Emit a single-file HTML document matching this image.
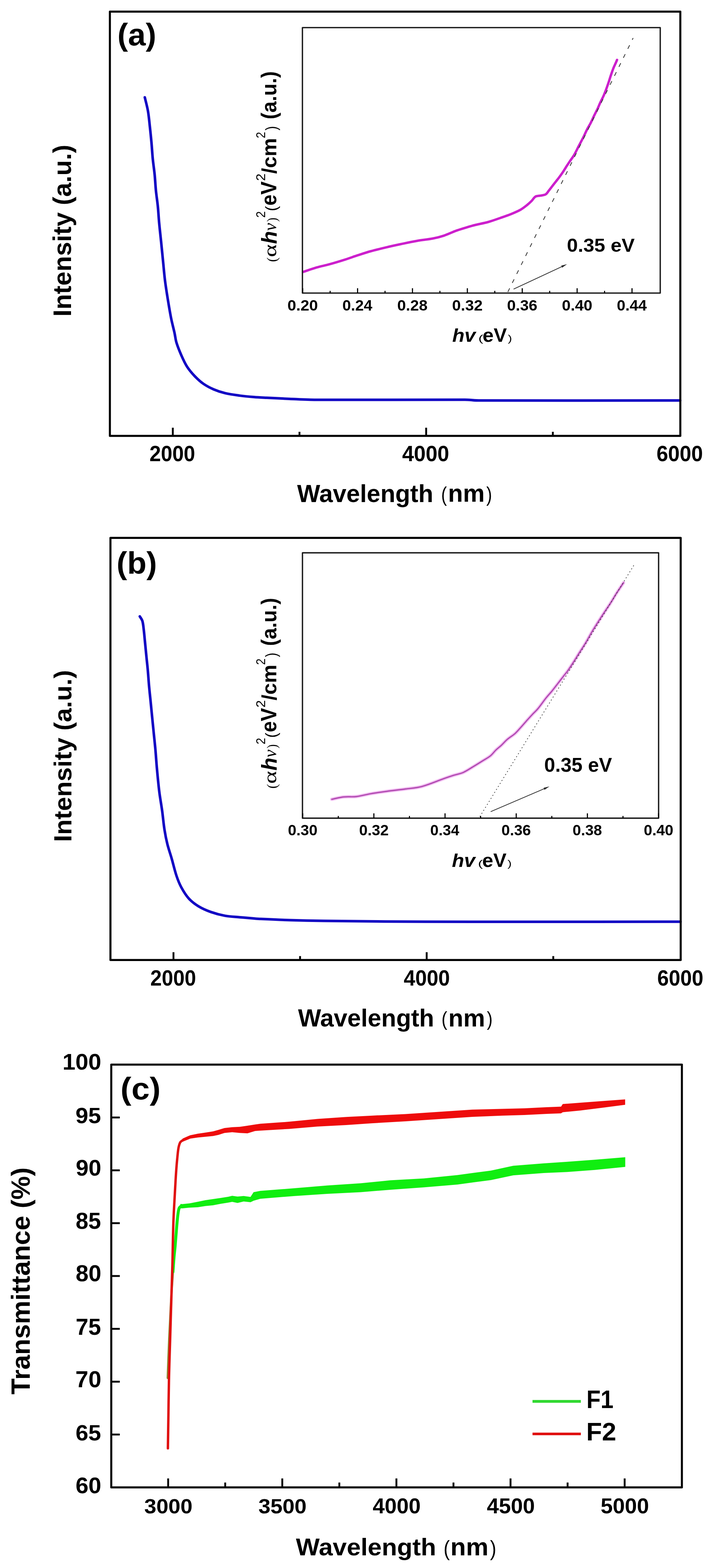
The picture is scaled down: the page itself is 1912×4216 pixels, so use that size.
<!DOCTYPE html>
<html><head><meta charset="utf-8"><title>Figure</title>
<style>html,body{margin:0;padding:0;background:#fff;} svg{display:block;}</style></head>
<body><svg width="1912" height="4216" viewBox="0 0 1912 4216">
<rect x="0" y="0" width="1912" height="4216" fill="#fff"/>
<path d="M389.40,261.70 C392.23,273.97 395.76,286.09 397.90,298.50 C400.34,312.66 401.51,327.02 403.10,341.30 C404.68,355.55 406.12,369.82 407.40,384.10 C408.68,398.35 409.39,412.66 410.80,426.90 C412.22,441.20 414.48,455.40 415.90,469.70 C417.31,483.94 417.87,498.26 419.30,512.50 C420.74,526.80 423.07,541.00 424.50,555.30 C425.93,569.57 426.58,583.92 427.90,598.20 C429.54,615.95 431.60,633.66 433.40,651.40 C435.13,668.50 436.79,685.60 438.50,702.70 C440.22,719.83 441.56,737.01 443.70,754.10 C445.86,771.29 448.62,788.40 451.40,805.50 C454.19,822.67 456.99,839.84 460.40,856.90 C462.99,869.82 466.57,882.53 469.40,895.40 C471.27,903.93 471.97,912.74 474.50,921.10 C477.96,932.51 482.51,943.58 487.30,954.50 C491.92,965.01 496.53,975.62 502.70,985.30 C508.60,994.56 515.76,1003.02 523.30,1011.00 C530.37,1018.48 537.97,1025.59 546.40,1031.50 C555.21,1037.67 564.84,1042.71 574.70,1047.00 C584.62,1051.31 594.98,1054.68 605.50,1057.20 C618.15,1060.23 631.11,1061.88 644.00,1063.60 C656.82,1065.31 669.71,1066.46 682.60,1067.50 C694.05,1068.43 705.53,1068.91 717.00,1069.50 C737.33,1070.54 757.66,1071.56 778.00,1072.40 C802.00,1073.39 825.98,1074.88 850.00,1075.00 C983.33,1075.68 1116.67,1074.25 1250.00,1074.80 C1262.68,1074.85 1275.32,1076.76 1288.00,1076.80 C1468.33,1077.42 1648.67,1076.80 1829.00,1076.80" fill="none" stroke="#1206c4" stroke-width="7" stroke-linejoin="round" stroke-linecap="round" />
<rect x="295.50" y="31.30" width="1534.00" height="1140.70" fill="none" stroke="#000" stroke-width="5.5" stroke-linejoin="round"/>
<line x1="464.70" y1="1172.00" x2="464.70" y2="1150.00" stroke="#000" stroke-width="5" />
<line x1="805.35" y1="1172.00" x2="805.35" y2="1161.00" stroke="#000" stroke-width="5" />
<line x1="1146.00" y1="1172.00" x2="1146.00" y2="1150.00" stroke="#000" stroke-width="5" />
<line x1="1486.65" y1="1172.00" x2="1486.65" y2="1161.00" stroke="#000" stroke-width="5" />
<text transform="translate(401.97,1240.31) scale(0.9393,1)" font-family="'Liberation Sans', Arial, sans-serif" font-weight="bold" font-style="normal" font-size="58.80" fill="#000" >2000</text>
<text transform="translate(1081.45,1240.31) scale(0.9675,1)" font-family="'Liberation Sans', Arial, sans-serif" font-weight="bold" font-style="normal" font-size="58.80" fill="#000" >4000</text>
<text transform="translate(1765.40,1240.31) scale(0.9538,1)" font-family="'Liberation Sans', Arial, sans-serif" font-weight="bold" font-style="normal" font-size="58.80" fill="#000" >6000</text>
<text transform="translate(315.72,122.37) scale(1.0357,1)" font-family="'Liberation Sans', Arial, sans-serif" font-weight="bold" font-style="normal" font-size="82.57" fill="#000" >(a)</text>
<text transform="translate(799.04,1349.50) scale(0.9939,1)" font-family="'Liberation Sans', Arial, sans-serif" font-weight="bold" font-style="normal" font-size="66.07" fill="#000" >Wavelength</text>
<text transform="translate(1186.20,1347.61) scale(0.8465,1)" font-family="'Liberation Sans', Arial, sans-serif" font-weight="normal" font-style="normal" font-size="54.91" fill="#000" >(</text>
<text transform="translate(1204.83,1349.00) scale(0.9923,1)" font-family="'Liberation Sans', Arial, sans-serif" font-weight="bold" font-style="normal" font-size="66.23" fill="#000" >nm</text>
<text transform="translate(1307.85,1347.61) scale(0.8465,1)" font-family="'Liberation Sans', Arial, sans-serif" font-weight="normal" font-style="normal" font-size="54.91" fill="#000" >)</text>
<text transform="translate(191.36,851.31) rotate(-90) scale(1.0083,1)" font-family="'Liberation Sans', Arial, sans-serif" font-weight="bold" font-style="normal" font-size="67.67" fill="#000">Intensity (a.u.)</text>
<path d="M376.00,1657.40 C378.27,1661.40 381.42,1665.01 382.80,1669.40 C384.87,1676.01 385.33,1683.03 386.20,1689.90 C387.64,1701.30 388.56,1712.76 389.70,1724.20 C391.12,1738.46 392.47,1752.74 393.90,1767.00 C395.04,1778.40 396.38,1789.79 397.40,1801.20 C398.68,1815.45 399.52,1829.75 400.80,1844.00 C402.08,1858.28 403.68,1872.53 405.10,1886.80 C406.52,1901.10 407.88,1915.40 409.30,1929.70 C410.72,1943.97 412.17,1958.23 413.60,1972.50 C415.03,1986.77 416.62,2001.02 417.90,2015.30 C419.36,2031.59 420.30,2047.92 421.80,2064.20 C423.77,2085.62 425.68,2107.05 428.30,2128.40 C430.41,2145.60 433.65,2162.64 436.00,2179.80 C438.35,2196.91 439.72,2214.14 442.40,2231.20 C444.43,2244.13 446.93,2257.00 450.10,2269.70 C453.34,2282.70 457.90,2295.33 461.60,2308.20 C466.03,2323.60 469.43,2339.30 474.50,2354.50 C478.02,2365.05 482.00,2375.53 487.30,2385.30 C493.19,2396.16 499.63,2406.92 507.90,2416.10 C515.25,2424.26 524.22,2430.99 533.60,2436.70 C544.07,2443.08 555.46,2447.97 567.00,2452.10 C579.51,2456.57 592.43,2460.01 605.50,2462.40 C618.18,2464.72 631.16,2465.02 644.00,2466.20 C656.86,2467.38 669.73,2468.46 682.60,2469.50 C688.73,2469.99 694.86,2470.51 701.00,2470.80 C726.66,2472.01 752.32,2473.21 778.00,2474.00 C808.99,2474.95 839.99,2475.63 871.00,2476.00 C961.66,2477.07 1052.33,2478.08 1143.00,2478.30 C1372.00,2478.85 1601.00,2478.30 1830.00,2478.30" fill="none" stroke="#1206c4" stroke-width="7" stroke-linejoin="round" stroke-linecap="round" />
<rect x="297.00" y="1446.20" width="1533.50" height="1135.00" fill="none" stroke="#000" stroke-width="5.5" stroke-linejoin="round"/>
<line x1="466.50" y1="2581.20" x2="466.50" y2="2560.20" stroke="#000" stroke-width="5" />
<line x1="806.95" y1="2581.20" x2="806.95" y2="2570.70" stroke="#000" stroke-width="5" />
<line x1="1147.40" y1="2581.20" x2="1147.40" y2="2560.20" stroke="#000" stroke-width="5" />
<line x1="1487.85" y1="2581.20" x2="1487.85" y2="2570.70" stroke="#000" stroke-width="5" />
<text transform="translate(404.27,2650.31) scale(0.9393,1)" font-family="'Liberation Sans', Arial, sans-serif" font-weight="bold" font-style="normal" font-size="58.80" fill="#000" >2000</text>
<text transform="translate(1085.66,2650.31) scale(0.9494,1)" font-family="'Liberation Sans', Arial, sans-serif" font-weight="bold" font-style="normal" font-size="58.80" fill="#000" >4000</text>
<text transform="translate(1767.51,2650.31) scale(0.9467,1)" font-family="'Liberation Sans', Arial, sans-serif" font-weight="bold" font-style="normal" font-size="58.80" fill="#000" >6000</text>
<text transform="translate(313.55,1543.08) scale(1.0134,1)" font-family="'Liberation Sans', Arial, sans-serif" font-weight="bold" font-style="normal" font-size="83.97" fill="#000" >(b)</text>
<text transform="translate(801.44,2759.50) scale(0.9939,1)" font-family="'Liberation Sans', Arial, sans-serif" font-weight="bold" font-style="normal" font-size="66.07" fill="#000" >Wavelength</text>
<text transform="translate(1187.20,2757.91) scale(0.8616,1)" font-family="'Liberation Sans', Arial, sans-serif" font-weight="normal" font-style="normal" font-size="53.94" fill="#000" >(</text>
<text transform="translate(1205.83,2759.50) scale(0.9785,1)" font-family="'Liberation Sans', Arial, sans-serif" font-weight="bold" font-style="normal" font-size="67.16" fill="#000" >nm</text>
<text transform="translate(1309.25,2757.91) scale(0.8616,1)" font-family="'Liberation Sans', Arial, sans-serif" font-weight="normal" font-style="normal" font-size="53.94" fill="#000" >)</text>
<text transform="translate(191.98,2263.81) rotate(-90) scale(1.0099,1)" font-family="'Liberation Sans', Arial, sans-serif" font-weight="bold" font-style="normal" font-size="67.56" fill="#000">Intensity (a.u.)</text>
<path d="M815.00,731.20 C827.13,727.20 839.14,722.78 851.40,719.20 C862.68,715.91 874.27,713.75 885.60,710.60 C899.95,706.61 914.20,702.29 928.40,697.80 C939.91,694.16 951.22,689.94 962.70,686.20 C974.06,682.50 985.39,678.70 996.90,675.50 C1011.07,671.56 1025.39,668.18 1039.70,664.80 C1052.52,661.78 1065.41,659.01 1078.30,656.30 C1092.51,653.31 1106.70,650.21 1121.00,647.70 C1135.24,645.20 1149.71,644.05 1163.90,641.30 C1174.00,639.34 1184.04,636.86 1193.80,633.60 C1205.45,629.71 1216.43,624.02 1228.00,619.90 C1239.28,615.88 1250.83,612.66 1262.30,609.20 C1266.74,607.86 1271.20,606.60 1275.70,605.50 C1288.50,602.37 1301.50,600.04 1314.20,596.50 C1324.63,593.60 1334.77,589.75 1345.00,586.20 C1354.47,582.91 1364.00,579.75 1373.30,576.00 C1382.02,572.48 1390.79,568.98 1399.00,564.40 C1405.43,560.81 1411.23,556.17 1417.00,551.60 C1421.51,548.02 1425.73,544.07 1429.80,540.00 C1433.41,536.39 1435.61,531.19 1440.00,528.60 C1444.01,526.23 1449.16,526.91 1453.70,525.90 C1458.29,524.88 1463.35,524.90 1467.40,522.50 C1471.02,520.35 1472.95,516.17 1475.60,512.90 C1478.89,508.84 1481.99,504.63 1485.20,500.50 C1488.39,496.39 1491.60,492.30 1494.80,488.20 C1498.00,484.10 1501.31,480.08 1504.40,475.90 C1507.71,471.41 1510.91,466.84 1514.00,462.20 C1517.31,457.24 1520.36,452.11 1523.60,447.10 C1526.76,442.21 1529.95,437.33 1533.20,432.50 C1536.58,427.47 1540.46,422.75 1543.50,417.50 C1548.44,408.99 1552.55,400.03 1557.10,391.30 C1560.82,384.16 1564.69,377.10 1568.30,369.90 C1572.13,362.26 1575.51,354.41 1579.40,346.80 C1582.08,341.57 1585.33,336.64 1588.00,331.40 C1591.60,324.36 1594.74,317.11 1598.20,310.00 C1601.28,303.67 1604.60,297.46 1607.60,291.10 C1609.57,286.93 1611.16,282.59 1613.10,278.40 C1616.43,271.22 1620.19,264.24 1623.40,257.00 C1625.89,251.39 1628.05,245.64 1630.20,239.90 C1632.32,234.24 1634.28,228.53 1636.20,222.80 C1638.58,215.69 1640.69,208.50 1643.10,201.40 C1645.25,195.06 1647.42,188.72 1649.90,182.50 C1651.99,177.28 1654.54,172.25 1656.80,167.10 C1657.67,165.12 1658.47,163.10 1659.30,161.10" fill="none" stroke="#cc1fcc" stroke-width="6.5" stroke-linejoin="round" stroke-linecap="round" />
<line x1="1365.70" y1="785.00" x2="1702.60" y2="102.30" stroke="#3a3a3a" stroke-width="2.2" stroke-dasharray="11,16"/>
<rect x="813.30" y="74.30" width="962.20" height="713.70" fill="none" stroke="#1a1a1a" stroke-width="3.6" stroke-linejoin="round"/>
<line x1="814.00" y1="788.00" x2="814.00" y2="775.00" stroke="#000" stroke-width="3" />
<line x1="887.80" y1="788.00" x2="887.80" y2="782.00" stroke="#000" stroke-width="3" />
<line x1="961.60" y1="788.00" x2="961.60" y2="775.00" stroke="#000" stroke-width="3" />
<line x1="1035.40" y1="788.00" x2="1035.40" y2="782.00" stroke="#000" stroke-width="3" />
<line x1="1109.20" y1="788.00" x2="1109.20" y2="775.00" stroke="#000" stroke-width="3" />
<line x1="1183.00" y1="788.00" x2="1183.00" y2="782.00" stroke="#000" stroke-width="3" />
<line x1="1256.80" y1="788.00" x2="1256.80" y2="775.00" stroke="#000" stroke-width="3" />
<line x1="1330.60" y1="788.00" x2="1330.60" y2="782.00" stroke="#000" stroke-width="3" />
<line x1="1404.40" y1="788.00" x2="1404.40" y2="775.00" stroke="#000" stroke-width="3" />
<line x1="1478.20" y1="788.00" x2="1478.20" y2="782.00" stroke="#000" stroke-width="3" />
<line x1="1552.00" y1="788.00" x2="1552.00" y2="775.00" stroke="#000" stroke-width="3" />
<line x1="1625.80" y1="788.00" x2="1625.80" y2="782.00" stroke="#000" stroke-width="3" />
<line x1="1699.60" y1="788.00" x2="1699.60" y2="775.00" stroke="#000" stroke-width="3" />
<text transform="translate(773.01,834.89) scale(1.0247,1)" font-family="'Liberation Sans', Arial, sans-serif" font-weight="bold" font-style="normal" font-size="41.13" fill="#000" >0.20</text>
<text transform="translate(920.65,834.89) scale(1.0058,1)" font-family="'Liberation Sans', Arial, sans-serif" font-weight="bold" font-style="normal" font-size="41.13" fill="#000" >0.24</text>
<text transform="translate(1068.22,834.89) scale(1.0192,1)" font-family="'Liberation Sans', Arial, sans-serif" font-weight="bold" font-style="normal" font-size="41.13" fill="#000" >0.28</text>
<text transform="translate(1215.81,834.79) scale(1.0283,1)" font-family="'Liberation Sans', Arial, sans-serif" font-weight="bold" font-style="normal" font-size="40.99" fill="#000" >0.32</text>
<text transform="translate(1363.42,834.79) scale(1.0255,1)" font-family="'Liberation Sans', Arial, sans-serif" font-weight="bold" font-style="normal" font-size="40.99" fill="#000" >0.36</text>
<text transform="translate(1511.01,834.89) scale(1.0247,1)" font-family="'Liberation Sans', Arial, sans-serif" font-weight="bold" font-style="normal" font-size="41.13" fill="#000" >0.40</text>
<text transform="translate(1658.65,834.89) scale(1.0058,1)" font-family="'Liberation Sans', Arial, sans-serif" font-weight="bold" font-style="normal" font-size="41.13" fill="#000" >0.44</text>
<line x1="1381.10" y1="777.40" x2="1510.40" y2="717.07" stroke="#2a2a2a" stroke-width="2" />
<polygon points="1524.90,710.30 1511.67,719.78 1509.13,714.35" fill="#2a2a2a"/>
<text transform="translate(1524.58,676.87) scale(1.0459,1)" font-family="'Liberation Sans', Arial, sans-serif" font-weight="bold" font-style="normal" font-size="50.56" fill="#000" >0.35 eV</text>
<text transform="translate(743.72,704.34) rotate(-90) scale(0.9706,1)" font-family="'Liberation Serif', 'Times New Roman', serif" font-weight="normal" font-style="normal" font-size="37.58" fill="#000">(</text>
<text transform="translate(743.10,691.58) rotate(-90) scale(1.3152,1)" font-family="'Liberation Serif', 'Times New Roman', serif" font-weight="normal" font-style="normal" font-size="50.36" fill="#000">α</text>
<text transform="translate(743.60,655.90) rotate(-90) scale(1.0016,1)" font-family="'Liberation Sans', Arial, sans-serif" font-weight="bold" font-style="italic" font-size="57.10" fill="#000">h</text>
<text transform="translate(743.10,620.72) rotate(-90) scale(0.9541,1)" font-family="'Liberation Serif', 'Times New Roman', serif" font-weight="normal" font-style="italic" font-size="50.21" fill="#000">ν</text>
<text transform="translate(743.72,596.17) rotate(-90) scale(0.8785,1)" font-family="'Liberation Serif', 'Times New Roman', serif" font-weight="normal" font-style="normal" font-size="37.58" fill="#000">)</text>
<text transform="translate(713.30,585.59) rotate(-90) scale(0.8963,1)" font-family="'Liberation Sans', Arial, sans-serif" font-weight="normal" font-style="normal" font-size="35.56" fill="#000">2</text>
<text transform="translate(743.54,567.94) rotate(-90) scale(1.0137,1)" font-family="'Liberation Sans', Arial, sans-serif" font-weight="normal" font-style="normal" font-size="41.72" fill="#000">(</text>
<text transform="translate(743.40,552.83) rotate(-90) scale(0.8904,1)" font-family="'Liberation Sans', Arial, sans-serif" font-weight="bold" font-style="normal" font-size="59.93" fill="#000">eV</text>
<text transform="translate(712.50,486.39) rotate(-90) scale(1.0076,1)" font-family="'Liberation Sans', Arial, sans-serif" font-weight="normal" font-style="normal" font-size="35.56" fill="#000">2</text>
<text transform="translate(743.40,467.16) rotate(-90) scale(0.9914,1)" font-family="'Liberation Sans', Arial, sans-serif" font-weight="bold" font-style="normal" font-size="56.28" fill="#000">/cm</text>
<text transform="translate(712.50,371.65) rotate(-90) scale(0.8716,1)" font-family="'Liberation Sans', Arial, sans-serif" font-weight="normal" font-style="normal" font-size="35.56" fill="#000">2</text>
<text transform="translate(743.85,350.77) rotate(-90) scale(0.8497,1)" font-family="'Liberation Sans', Arial, sans-serif" font-weight="normal" font-style="normal" font-size="42.14" fill="#000">)</text>
<text transform="translate(742.82,320.71) rotate(-90) scale(0.9451,1)" font-family="'Liberation Sans', Arial, sans-serif" font-weight="bold" font-style="normal" font-size="57.27" fill="#000">(a.u.)</text>
<text transform="translate(1216.16,918.80) scale(1.0903,1)" font-family="'Liberation Sans', Arial, sans-serif" font-weight="bold" font-style="italic" font-size="49.38" fill="#000" >hv</text>
<text transform="translate(1286.20,919.25) scale(1.5805,1)" font-family="'Liberation Sans', Arial, sans-serif" font-weight="normal" font-style="normal" font-size="25.31" fill="#000" >(</text>
<text transform="translate(1297.87,918.80) scale(1.0248,1)" font-family="'Liberation Sans', Arial, sans-serif" font-weight="bold" font-style="normal" font-size="52.07" fill="#000" >eV</text>
<text transform="translate(1365.75,919.25) scale(1.3397,1)" font-family="'Liberation Sans', Arial, sans-serif" font-weight="normal" font-style="normal" font-size="25.31" fill="#000" >)</text>
<path d="M892.10,2149.10 C902.80,2146.97 913.35,2143.89 924.20,2142.70 C935.57,2141.45 947.14,2143.14 958.50,2141.80 C971.50,2140.26 984.11,2136.34 997.00,2134.10 C1011.21,2131.63 1025.51,2129.64 1039.80,2127.70 C1056.91,2125.38 1074.09,2123.64 1091.20,2121.30 C1105.50,2119.34 1120.07,2118.58 1134.00,2114.80 C1154.46,2109.24 1173.90,2100.43 1193.90,2093.40 C1202.73,2090.30 1211.57,2087.22 1220.50,2084.40 C1228.68,2081.82 1237.35,2080.65 1245.20,2077.20 C1254.61,2073.06 1263.08,2067.07 1271.90,2061.80 C1280.88,2056.43 1289.75,2050.88 1298.60,2045.30 C1305.52,2040.94 1312.88,2037.18 1319.20,2032.00 C1324.63,2027.54 1328.55,2021.49 1333.60,2016.60 C1338.13,2012.21 1343.29,2008.51 1347.90,2004.20 C1353.56,1998.90 1358.52,1992.85 1364.40,1987.80 C1370.88,1982.23 1378.50,1978.06 1384.90,1972.40 C1390.41,1967.52 1395.05,1961.75 1400.00,1956.30 C1405.22,1950.55 1410.23,1944.60 1415.40,1938.80 C1420.49,1933.10 1425.57,1927.38 1430.80,1921.80 C1435.84,1916.41 1441.48,1911.57 1446.20,1905.90 C1454.07,1896.45 1460.84,1886.12 1468.50,1876.50 C1473.48,1870.25 1479.01,1864.46 1484.10,1858.30 C1487.98,1853.59 1491.65,1848.71 1495.40,1843.90 C1498.85,1839.48 1502.27,1835.04 1505.70,1830.60 C1509.14,1826.14 1512.53,1821.64 1516.00,1817.20 C1519.36,1812.90 1523.01,1808.83 1526.20,1804.40 C1530.75,1798.08 1534.98,1791.54 1539.20,1785.00 C1545.71,1774.91 1551.98,1764.65 1558.40,1754.50 C1563.74,1746.05 1569.36,1737.77 1574.50,1729.20 C1580.66,1718.93 1586.17,1708.29 1592.30,1698.00 C1597.67,1688.98 1603.36,1680.15 1609.00,1671.30 C1614.46,1662.72 1620.01,1654.19 1625.60,1645.70 C1630.74,1637.89 1636.17,1630.28 1641.20,1622.40 C1647.30,1612.84 1652.89,1602.96 1659.00,1593.40 C1664.76,1584.39 1670.87,1575.60 1676.80,1566.70" fill="none" stroke="#f2c0f2" stroke-width="9" stroke-linejoin="round" stroke-linecap="round" />
<path d="M892.10,2149.10 C902.80,2146.97 913.35,2143.89 924.20,2142.70 C935.57,2141.45 947.14,2143.14 958.50,2141.80 C971.50,2140.26 984.11,2136.34 997.00,2134.10 C1011.21,2131.63 1025.51,2129.64 1039.80,2127.70 C1056.91,2125.38 1074.09,2123.64 1091.20,2121.30 C1105.50,2119.34 1120.07,2118.58 1134.00,2114.80 C1154.46,2109.24 1173.90,2100.43 1193.90,2093.40 C1202.73,2090.30 1211.57,2087.22 1220.50,2084.40 C1228.68,2081.82 1237.35,2080.65 1245.20,2077.20 C1254.61,2073.06 1263.08,2067.07 1271.90,2061.80 C1280.88,2056.43 1289.75,2050.88 1298.60,2045.30 C1305.52,2040.94 1312.88,2037.18 1319.20,2032.00 C1324.63,2027.54 1328.55,2021.49 1333.60,2016.60 C1338.13,2012.21 1343.29,2008.51 1347.90,2004.20 C1353.56,1998.90 1358.52,1992.85 1364.40,1987.80 C1370.88,1982.23 1378.50,1978.06 1384.90,1972.40 C1390.41,1967.52 1395.05,1961.75 1400.00,1956.30 C1405.22,1950.55 1410.23,1944.60 1415.40,1938.80 C1420.49,1933.10 1425.57,1927.38 1430.80,1921.80 C1435.84,1916.41 1441.48,1911.57 1446.20,1905.90 C1454.07,1896.45 1460.84,1886.12 1468.50,1876.50 C1473.48,1870.25 1479.01,1864.46 1484.10,1858.30 C1487.98,1853.59 1491.65,1848.71 1495.40,1843.90 C1498.85,1839.48 1502.27,1835.04 1505.70,1830.60 C1509.14,1826.14 1512.53,1821.64 1516.00,1817.20 C1519.36,1812.90 1523.01,1808.83 1526.20,1804.40 C1530.75,1798.08 1534.98,1791.54 1539.20,1785.00 C1545.71,1774.91 1551.98,1764.65 1558.40,1754.50 C1563.74,1746.05 1569.36,1737.77 1574.50,1729.20 C1580.66,1718.93 1586.17,1708.29 1592.30,1698.00 C1597.67,1688.98 1603.36,1680.15 1609.00,1671.30 C1614.46,1662.72 1620.01,1654.19 1625.60,1645.70 C1630.74,1637.89 1636.17,1630.28 1641.20,1622.40 C1647.30,1612.84 1652.89,1602.96 1659.00,1593.40 C1664.76,1584.39 1670.87,1575.60 1676.80,1566.70" fill="none" stroke="#b048b0" stroke-width="3.4" stroke-linejoin="round" stroke-linecap="round" />
<line x1="1290.20" y1="2196.00" x2="1706.70" y2="1516.40" stroke="#3a3a3a" stroke-width="1.8" stroke-dasharray="3,6.4"/>
<rect x="813.40" y="1486.40" width="957.70" height="713.50" fill="none" stroke="#1a1a1a" stroke-width="3.6" stroke-linejoin="round"/>
<line x1="814.00" y1="2199.90" x2="814.00" y2="2186.90" stroke="#000" stroke-width="3" />
<line x1="909.70" y1="2199.90" x2="909.70" y2="2193.90" stroke="#000" stroke-width="3" />
<line x1="1005.40" y1="2199.90" x2="1005.40" y2="2186.90" stroke="#000" stroke-width="3" />
<line x1="1101.10" y1="2199.90" x2="1101.10" y2="2193.90" stroke="#000" stroke-width="3" />
<line x1="1196.80" y1="2199.90" x2="1196.80" y2="2186.90" stroke="#000" stroke-width="3" />
<line x1="1292.50" y1="2199.90" x2="1292.50" y2="2193.90" stroke="#000" stroke-width="3" />
<line x1="1388.20" y1="2199.90" x2="1388.20" y2="2186.90" stroke="#000" stroke-width="3" />
<line x1="1483.90" y1="2199.90" x2="1483.90" y2="2193.90" stroke="#000" stroke-width="3" />
<line x1="1579.60" y1="2199.90" x2="1579.60" y2="2186.90" stroke="#000" stroke-width="3" />
<line x1="1675.30" y1="2199.90" x2="1675.30" y2="2193.90" stroke="#000" stroke-width="3" />
<line x1="1771.00" y1="2199.90" x2="1771.00" y2="2186.90" stroke="#000" stroke-width="3" />
<text transform="translate(774.27,2246.30) scale(1.0251,1)" font-family="'Liberation Sans', Arial, sans-serif" font-weight="bold" font-style="normal" font-size="39.86" fill="#000" >0.30</text>
<text transform="translate(965.67,2246.30) scale(1.0251,1)" font-family="'Liberation Sans', Arial, sans-serif" font-weight="bold" font-style="normal" font-size="39.86" fill="#000" >0.32</text>
<text transform="translate(1157.10,2246.30) scale(1.0062,1)" font-family="'Liberation Sans', Arial, sans-serif" font-weight="bold" font-style="normal" font-size="39.86" fill="#000" >0.34</text>
<text transform="translate(1348.47,2246.30) scale(1.0223,1)" font-family="'Liberation Sans', Arial, sans-serif" font-weight="bold" font-style="normal" font-size="39.86" fill="#000" >0.36</text>
<text transform="translate(1539.87,2246.30) scale(1.0196,1)" font-family="'Liberation Sans', Arial, sans-serif" font-weight="bold" font-style="normal" font-size="39.86" fill="#000" >0.38</text>
<text transform="translate(1731.27,2246.40) scale(1.0214,1)" font-family="'Liberation Sans', Arial, sans-serif" font-weight="bold" font-style="normal" font-size="40.00" fill="#000" >0.40</text>
<line x1="1319.50" y1="2182.40" x2="1462.99" y2="2120.90" stroke="#2a2a2a" stroke-width="2" />
<polygon points="1477.70,2114.60 1464.18,2123.66 1461.81,2118.15" fill="#2a2a2a"/>
<text transform="translate(1463.58,2074.94) scale(0.9986,1)" font-family="'Liberation Sans', Arial, sans-serif" font-weight="bold" font-style="normal" font-size="52.96" fill="#000" >0.35 eV</text>
<text transform="translate(743.72,2120.34) rotate(-90) scale(0.9706,1)" font-family="'Liberation Serif', 'Times New Roman', serif" font-weight="normal" font-style="normal" font-size="37.58" fill="#000">(</text>
<text transform="translate(743.10,2107.58) rotate(-90) scale(1.3152,1)" font-family="'Liberation Serif', 'Times New Roman', serif" font-weight="normal" font-style="normal" font-size="50.36" fill="#000">α</text>
<text transform="translate(743.60,2071.90) rotate(-90) scale(1.0016,1)" font-family="'Liberation Sans', Arial, sans-serif" font-weight="bold" font-style="italic" font-size="57.10" fill="#000">h</text>
<text transform="translate(743.10,2036.72) rotate(-90) scale(0.9541,1)" font-family="'Liberation Serif', 'Times New Roman', serif" font-weight="normal" font-style="italic" font-size="50.21" fill="#000">ν</text>
<text transform="translate(743.72,2012.17) rotate(-90) scale(0.8785,1)" font-family="'Liberation Serif', 'Times New Roman', serif" font-weight="normal" font-style="normal" font-size="37.58" fill="#000">)</text>
<text transform="translate(713.30,2001.59) rotate(-90) scale(0.8963,1)" font-family="'Liberation Sans', Arial, sans-serif" font-weight="normal" font-style="normal" font-size="35.56" fill="#000">2</text>
<text transform="translate(743.54,1983.94) rotate(-90) scale(1.0137,1)" font-family="'Liberation Sans', Arial, sans-serif" font-weight="normal" font-style="normal" font-size="41.72" fill="#000">(</text>
<text transform="translate(743.40,1968.83) rotate(-90) scale(0.8904,1)" font-family="'Liberation Sans', Arial, sans-serif" font-weight="bold" font-style="normal" font-size="59.93" fill="#000">eV</text>
<text transform="translate(712.50,1902.39) rotate(-90) scale(1.0076,1)" font-family="'Liberation Sans', Arial, sans-serif" font-weight="normal" font-style="normal" font-size="35.56" fill="#000">2</text>
<text transform="translate(743.40,1883.16) rotate(-90) scale(0.9914,1)" font-family="'Liberation Sans', Arial, sans-serif" font-weight="bold" font-style="normal" font-size="56.28" fill="#000">/cm</text>
<text transform="translate(712.50,1787.65) rotate(-90) scale(0.8716,1)" font-family="'Liberation Sans', Arial, sans-serif" font-weight="normal" font-style="normal" font-size="35.56" fill="#000">2</text>
<text transform="translate(743.85,1766.77) rotate(-90) scale(0.8497,1)" font-family="'Liberation Sans', Arial, sans-serif" font-weight="normal" font-style="normal" font-size="42.14" fill="#000">)</text>
<text transform="translate(742.82,1736.71) rotate(-90) scale(0.9451,1)" font-family="'Liberation Sans', Arial, sans-serif" font-weight="bold" font-style="normal" font-size="57.27" fill="#000">(a.u.)</text>
<text transform="translate(1215.16,2330.80) scale(1.0903,1)" font-family="'Liberation Sans', Arial, sans-serif" font-weight="bold" font-style="italic" font-size="49.38" fill="#000" >hv</text>
<text transform="translate(1285.20,2331.25) scale(1.5805,1)" font-family="'Liberation Sans', Arial, sans-serif" font-weight="normal" font-style="normal" font-size="25.31" fill="#000" >(</text>
<text transform="translate(1296.87,2330.80) scale(1.0248,1)" font-family="'Liberation Sans', Arial, sans-serif" font-weight="bold" font-style="normal" font-size="52.07" fill="#000" >eV</text>
<text transform="translate(1364.75,2331.25) scale(1.3397,1)" font-family="'Liberation Sans', Arial, sans-serif" font-weight="normal" font-style="normal" font-size="25.31" fill="#000" >)</text>
<polygon points="485.00,3237.30 490.80,3237.40 511.40,3235.30 531.90,3231.20 552.50,3227.10 573.00,3224.00 593.60,3220.90 614.10,3217.80 624.40,3215.30 638.80,3217.30 655.20,3215.80 673.70,3218.30 681.90,3205.50 700.00,3202.00 790.00,3195.00 880.00,3187.50 970.00,3181.50 1050.00,3173.50 1140.00,3168.40 1230.00,3159.40 1320.00,3147.50 1380.00,3134.50 1462.20,3127.90 1525.20,3123.80 1599.20,3118.30 1681.40,3111.40 1681.40,3137.50 1599.20,3145.70 1525.20,3151.20 1462.20,3153.90 1380.00,3160.20 1320.00,3172.90 1230.00,3184.90 1140.00,3192.40 1050.00,3198.90 970.00,3205.40 880.00,3210.00 790.00,3216.00 700.00,3223.20 681.90,3228.50 673.70,3232.60 655.20,3230.50 638.80,3234.60 624.40,3231.50 614.10,3233.60 593.60,3236.70 573.00,3240.80 552.50,3242.80 531.90,3245.90 511.40,3246.90 490.80,3249.00 485.00,3248.70" fill="#10ee10"/>
<path d="M451.00,3705.00 C451.67,3686.67 452.30,3668.33 453.00,3650.00 C453.63,3633.33 454.24,3616.66 455.00,3600.00 C455.91,3580.00 457.00,3560.00 458.00,3540.00 C459.00,3520.00 459.83,3499.99 461.00,3480.00 C462.17,3459.99 463.67,3440.00 465.00,3420.00" fill="none" stroke="#8c8a30" stroke-width="6" stroke-linejoin="round" stroke-linecap="round" />
<path d="M465.00,3420.00 C466.00,3406.67 466.86,3393.32 468.00,3380.00 C468.86,3369.99 470.12,3360.01 471.00,3350.00 C472.46,3333.34 473.53,3316.66 475.00,3300.00 C476.03,3288.32 476.94,3276.62 478.50,3265.00 C479.27,3259.27 479.79,3253.35 482.00,3248.00 C483.08,3245.39 486.00,3244.00 488.00,3242.00" fill="none" stroke="#10ee10" stroke-width="8" stroke-linejoin="round" stroke-linecap="round" />
<polygon points="490.80,3061.60 511.40,3052.40 531.90,3048.30 552.50,3045.20 573.00,3042.10 587.40,3038.00 603.80,3032.90 624.40,3030.80 644.90,3029.80 665.50,3026.70 686.00,3023.60 700.00,3021.40 777.00,3016.10 854.00,3008.40 931.00,3003.30 1000.00,2999.70 1090.00,2995.50 1180.00,2989.50 1270.00,2983.50 1350.00,2981.40 1410.00,2980.00 1470.00,2977.00 1508.80,2975.50 1513.30,2968.60 1559.80,2965.00 1619.70,2960.50 1681.10,2956.00 1681.10,2970.40 1619.70,2978.50 1559.80,2986.00 1513.30,2990.40 1508.80,2993.40 1470.00,2995.00 1410.00,2998.00 1350.00,2999.70 1270.00,3003.00 1180.00,3008.90 1090.00,3015.00 1000.00,3020.30 931.00,3025.10 854.00,3029.00 777.00,3035.40 700.00,3040.00 686.00,3041.10 665.50,3047.30 644.90,3046.20 624.40,3044.20 603.80,3046.20 587.40,3051.40 573.00,3054.40 552.50,3056.50 531.90,3058.60 511.40,3061.60 490.80,3069.90" fill="#ee0c0c"/>
<path d="M451.50,3894.30 C451.97,3864.03 452.43,3833.77 452.90,3803.50 C453.43,3769.90 453.73,3736.30 454.50,3702.70 C455.27,3669.06 456.50,3635.43 457.50,3601.80 C458.50,3568.17 459.48,3534.53 460.50,3500.90 C461.52,3467.27 462.70,3433.64 463.60,3400.00 C464.60,3362.74 464.92,3325.45 466.20,3288.20 C467.08,3262.52 468.70,3236.86 470.10,3211.20 C471.27,3189.79 472.37,3168.38 473.90,3147.00 C474.94,3132.41 476.28,3117.84 477.80,3103.30 C478.48,3096.84 479.09,3090.34 480.50,3084.00 C481.50,3079.52 482.58,3074.89 485.00,3071.00 C486.57,3068.48 489.67,3067.33 492.00,3065.50" fill="none" stroke="#e01010" stroke-width="6.5" stroke-linejoin="round" stroke-linecap="round" />
<rect x="299.20" y="2862.60" width="1534.50" height="1136.60" fill="none" stroke="#000" stroke-width="5.5" stroke-linejoin="round"/>
<line x1="299.20" y1="3857.12" x2="322.20" y2="3857.12" stroke="#000" stroke-width="5" />
<line x1="299.20" y1="3715.05" x2="322.20" y2="3715.05" stroke="#000" stroke-width="5" />
<line x1="299.20" y1="3572.97" x2="322.20" y2="3572.97" stroke="#000" stroke-width="5" />
<line x1="299.20" y1="3430.90" x2="322.20" y2="3430.90" stroke="#000" stroke-width="5" />
<line x1="299.20" y1="3288.82" x2="322.20" y2="3288.82" stroke="#000" stroke-width="5" />
<line x1="299.20" y1="3146.75" x2="322.20" y2="3146.75" stroke="#000" stroke-width="5" />
<line x1="299.20" y1="3004.67" x2="322.20" y2="3004.67" stroke="#000" stroke-width="5" />
<line x1="452.20" y1="3999.20" x2="452.20" y2="3975.20" stroke="#000" stroke-width="5" />
<line x1="605.65" y1="3999.20" x2="605.65" y2="3986.20" stroke="#000" stroke-width="5" />
<line x1="759.10" y1="3999.20" x2="759.10" y2="3975.20" stroke="#000" stroke-width="5" />
<line x1="912.55" y1="3999.20" x2="912.55" y2="3986.20" stroke="#000" stroke-width="5" />
<line x1="1066.00" y1="3999.20" x2="1066.00" y2="3975.20" stroke="#000" stroke-width="5" />
<line x1="1219.45" y1="3999.20" x2="1219.45" y2="3986.20" stroke="#000" stroke-width="5" />
<line x1="1372.90" y1="3999.20" x2="1372.90" y2="3975.20" stroke="#000" stroke-width="5" />
<line x1="1526.35" y1="3999.20" x2="1526.35" y2="3986.20" stroke="#000" stroke-width="5" />
<line x1="1679.80" y1="3999.20" x2="1679.80" y2="3975.20" stroke="#000" stroke-width="5" />
<text transform="translate(167.89,2876.39) scale(1.0327,1)" font-family="'Liberation Sans', Arial, sans-serif" font-weight="bold" font-style="normal" font-size="60.64" fill="#000" >100</text>
<text transform="translate(203.04,3019.80) scale(1.0291,1)" font-family="'Liberation Sans', Arial, sans-serif" font-weight="bold" font-style="normal" font-size="59.93" fill="#000" >95</text>
<text transform="translate(203.64,3160.59) scale(1.0057,1)" font-family="'Liberation Sans', Arial, sans-serif" font-weight="bold" font-style="normal" font-size="61.48" fill="#000" >90</text>
<text transform="translate(203.51,3304.36) scale(0.9628,1)" font-family="'Liberation Sans', Arial, sans-serif" font-weight="bold" font-style="normal" font-size="63.60" fill="#000" >85</text>
<text transform="translate(203.49,3445.26) scale(0.9744,1)" font-family="'Liberation Sans', Arial, sans-serif" font-weight="bold" font-style="normal" font-size="63.60" fill="#000" >80</text>
<text transform="translate(203.39,3588.67) scale(0.9769,1)" font-family="'Liberation Sans', Arial, sans-serif" font-weight="bold" font-style="normal" font-size="62.80" fill="#000" >75</text>
<text transform="translate(202.84,3729.77) scale(0.9949,1)" font-family="'Liberation Sans', Arial, sans-serif" font-weight="bold" font-style="normal" font-size="62.90" fill="#000" >70</text>
<text transform="translate(203.19,3872.90) scale(1.0340,1)" font-family="'Liberation Sans', Arial, sans-serif" font-weight="bold" font-style="normal" font-size="59.51" fill="#000" >65</text>
<text transform="translate(203.16,4014.70) scale(1.0319,1)" font-family="'Liberation Sans', Arial, sans-serif" font-weight="bold" font-style="normal" font-size="60.35" fill="#000" >60</text>
<text transform="translate(387.99,4069.20) scale(1.0338,1)" font-family="'Liberation Sans', Arial, sans-serif" font-weight="bold" font-style="normal" font-size="56.34" fill="#000" >3000</text>
<text transform="translate(694.89,4069.20) scale(1.0338,1)" font-family="'Liberation Sans', Arial, sans-serif" font-weight="bold" font-style="normal" font-size="56.34" fill="#000" >3500</text>
<text transform="translate(1002.23,4069.33) scale(1.0266,1)" font-family="'Liberation Sans', Arial, sans-serif" font-weight="bold" font-style="normal" font-size="56.54" fill="#000" >4000</text>
<text transform="translate(1309.13,4069.33) scale(1.0266,1)" font-family="'Liberation Sans', Arial, sans-serif" font-weight="bold" font-style="normal" font-size="56.54" fill="#000" >4500</text>
<text transform="translate(1615.15,4069.33) scale(1.0337,1)" font-family="'Liberation Sans', Arial, sans-serif" font-weight="bold" font-style="normal" font-size="56.54" fill="#000" >5000</text>
<text transform="translate(324.09,2956.29) scale(1.0560,1)" font-family="'Liberation Sans', Arial, sans-serif" font-weight="bold" font-style="normal" font-size="83.43" fill="#000" >(c)</text>
<text transform="translate(795.83,4182.40) scale(1.0482,1)" font-family="'Liberation Sans', Arial, sans-serif" font-weight="bold" font-style="normal" font-size="64.55" fill="#000" >Wavelength</text>
<text transform="translate(1192.63,4182.72) scale(0.8848,1)" font-family="'Liberation Sans', Arial, sans-serif" font-weight="normal" font-style="normal" font-size="57.27" fill="#000" >(</text>
<text transform="translate(1211.37,4182.40) scale(1.0257,1)" font-family="'Liberation Sans', Arial, sans-serif" font-weight="bold" font-style="normal" font-size="66.42" fill="#000" >nm</text>
<text transform="translate(1317.82,4182.72) scale(0.8914,1)" font-family="'Liberation Sans', Arial, sans-serif" font-weight="normal" font-style="normal" font-size="57.27" fill="#000" >)</text>
<text transform="translate(80.35,3749.41) rotate(-90) scale(1.0110,1)" font-family="'Liberation Sans', Arial, sans-serif" font-weight="bold" font-style="normal" font-size="70.13" fill="#000">Transmittance (%)</text>
<line x1="1432.00" y1="3768.00" x2="1562.00" y2="3768.00" stroke="#30d830" stroke-width="7.5" />
<line x1="1432.00" y1="3855.40" x2="1562.00" y2="3855.40" stroke="#e01010" stroke-width="7" />
<text transform="translate(1576.89,3786.00) scale(0.9036,1)" font-family="'Liberation Sans', Arial, sans-serif" font-weight="bold" font-style="normal" font-size="69.09" fill="#000" >F1</text>
<text transform="translate(1576.43,3873.40) scale(1.0164,1)" font-family="'Liberation Sans', Arial, sans-serif" font-weight="bold" font-style="normal" font-size="68.10" fill="#000" >F2</text>
</svg></body></html>
